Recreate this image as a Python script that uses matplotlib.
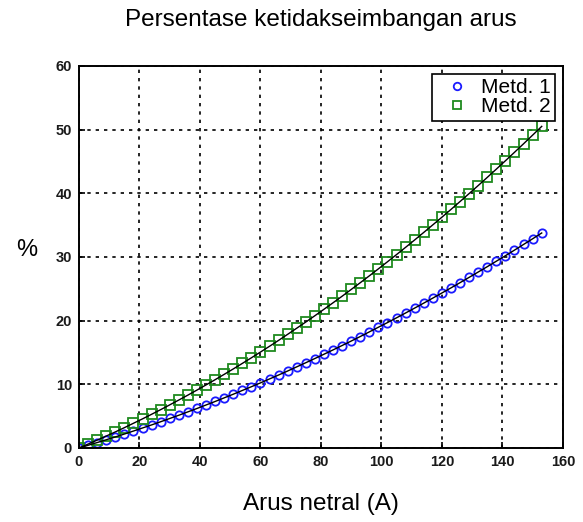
import numpy as np
import matplotlib
matplotlib.use("Agg")
import matplotlib.pyplot as plt

plt.rcParams['font.family'] = ['Liberation Sans', 'DejaVu Sans']

# Arus netral (A)
arus = list(range(0, 154, 3))

# Metd. 1 (%)
metd1 = [0, 0.42, 0.85, 1.29, 1.73, 2.19, 2.66, 3.14, 3.62, 4.12,
         4.63, 5.14, 5.67, 6.20, 6.75, 7.30, 7.87, 8.44, 9.03, 9.62,
         10.22, 10.84, 11.46, 12.09, 12.74, 13.39, 14.05, 14.72, 15.40, 16.09,
         16.79, 17.50, 18.23, 18.96, 19.69, 20.44, 21.20, 21.97, 22.75, 23.54,
         24.34, 25.14, 25.96, 26.79, 27.63, 28.47, 29.33, 30.19, 31.07, 31.96,
         32.85, 33.76]

# Metd. 2 (%)
metd2 = [0, 0.61, 1.23, 1.87, 2.52, 3.19, 3.88, 4.57, 5.29, 6.02,
         6.77, 7.53, 8.30, 9.09, 9.90, 10.72, 11.56, 12.41, 13.28, 14.16,
         15.06, 15.97, 16.90, 17.85, 18.81, 19.78, 20.77, 21.78, 22.80, 23.83,
         24.89, 25.95, 27.03, 28.13, 29.24, 30.37, 31.51, 32.67, 33.85, 35.04,
         36.24, 37.46, 38.70, 39.95, 41.21, 42.49, 43.79, 45.10, 46.43, 47.77,
         49.13, 50.50]

x_ticks = [0, 20, 40, 60, 80, 100, 120, 140, 160]
y_ticks = [0, 10, 20, 30, 40, 50, 60]

fig = plt.figure(figsize=(5.83, 5.22), dpi=100)
ax = fig.add_axes([0.1355, 0.1418, 0.830, 0.732])

ax.plot(arus, metd1, 'o', color='#1a1aff', mfc='none', ms=6, mew=1.3, label='Metd. 1')
ax.plot(arus, metd2, 's', color='#1f8a1f', mfc='none', ms=7, mew=1.3, label='Metd. 2')
ax.plot(arus, metd1, '-', color='black', lw=1.0)
ax.plot(arus, metd2, '-', color='black', lw=1.0)

ax.set_xlim(0, 160)
ax.set_ylim(0, 60)
ax.set_xticks(x_ticks)
ax.set_yticks(y_ticks)
ax.tick_params(direction='in', length=4, width=1.2, labelsize=10.5, pad=5,
               labelcolor='#1a1a1a', top=False, right=False)
for lbl in ax.get_xticklabels() + ax.get_yticklabels():
    lbl.set_fontweight('bold')
for s in ax.spines.values():
    s.set_linewidth(1.4)

ax.grid(True, color='black', linestyle=(0, (2, 3)), linewidth=1.2)

leg = ax.legend(loc='upper right', fontsize=15, fancybox=False, framealpha=1,
                edgecolor='black', handlelength=2.0, handletextpad=0.15,
                borderpad=0.2, labelspacing=0.0, borderaxespad=0.4,
                markerscale=0.9)
leg.get_frame().set_linewidth(1.2)

fig.text(0.5506, 0.962, 'Persentase ketidakseimbangan arus', ha='center', va='center', fontsize=17.5)
fig.text(0.5506, 0.035, 'Arus netral (A)', ha='center', va='center', fontsize=17.5)
fig.text(0.045, 0.522, '%', ha='center', va='center', fontsize=17)

fig.savefig('out.png', dpi=100)
